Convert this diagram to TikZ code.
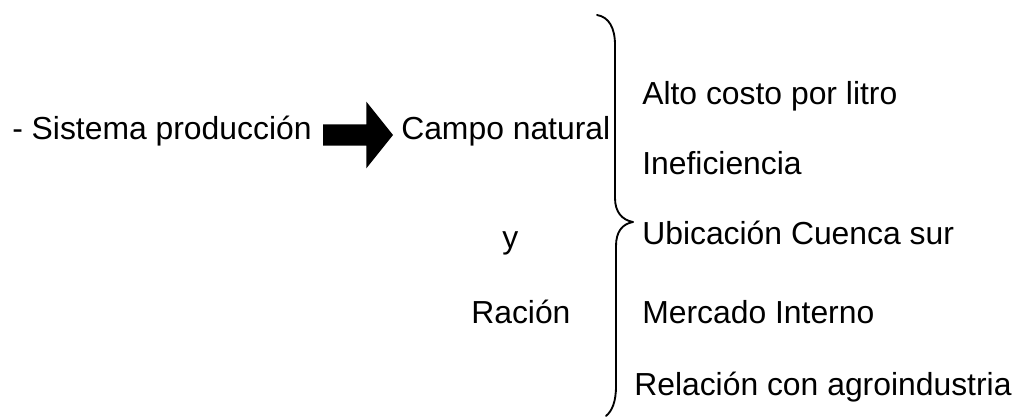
\documentclass[tikz,border=0pt]{standalone}
\usepackage{fontspec}
\setmainfont{Liberation Sans}
\begin{document}
\begin{tikzpicture}[x=0.75pt,y=-0.75pt,
  lbl/.style={anchor=base west,inner sep=0pt,font=\fontsize{23.9}{28}\selectfont},
  bracepath/.style={line width=1.4pt,line cap=round,line join=round}]
\useasboundingbox (0,0) rectangle (1016,417);
% left texts
\node[lbl] (sys) at (12,140) {- Sistema producción};
\node[lbl] (campo) at (401,140) {Campo natural};
\node[lbl] (y) at (502,248) {y};
\node[lbl] (racion) at (471,323) {Ración};
% block arrow
\coordinate (a1) at (323,135);
\coordinate (a2) at (393,135);
\fill ([yshift=-8]a1) -- ([xshift=-20,yshift=-8]a2) -- ([xshift=-20,yshift=-25]a2) -- (a2)
  -- ([xshift=-20,yshift=25]a2) -- ([xshift=-20,yshift=8]a2) -- ([yshift=8]a1) -- cycle;
% brace
\coordinate (btop) at (597,15);
\coordinate (btip) at (633,222);
\coordinate (bbot) at (606,416);
\draw[bracepath] (btop) .. controls (609,17) and (615,28) .. (615,45) -- (615,198)
  .. controls (615,212) and (622,220) .. (btip)
  .. controls (622,224) and (616,232) .. (616,246) -- (616,386)
  .. controls (616,402) and (612,411) .. (bbot);
% right texts
\node[lbl] (t1) at (642,105) {Alto costo por litro};
\node[lbl] (t2) at (642,175) {Ineficiencia};
\node[lbl] (t3) at (642,244) {Ubicación Cuenca sur};
\node[lbl] (t4) at (642,323) {Mercado Interno};
\node[lbl] (t5) at (634,395) {Relación con agroindustria};
\end{tikzpicture}
\end{document}
